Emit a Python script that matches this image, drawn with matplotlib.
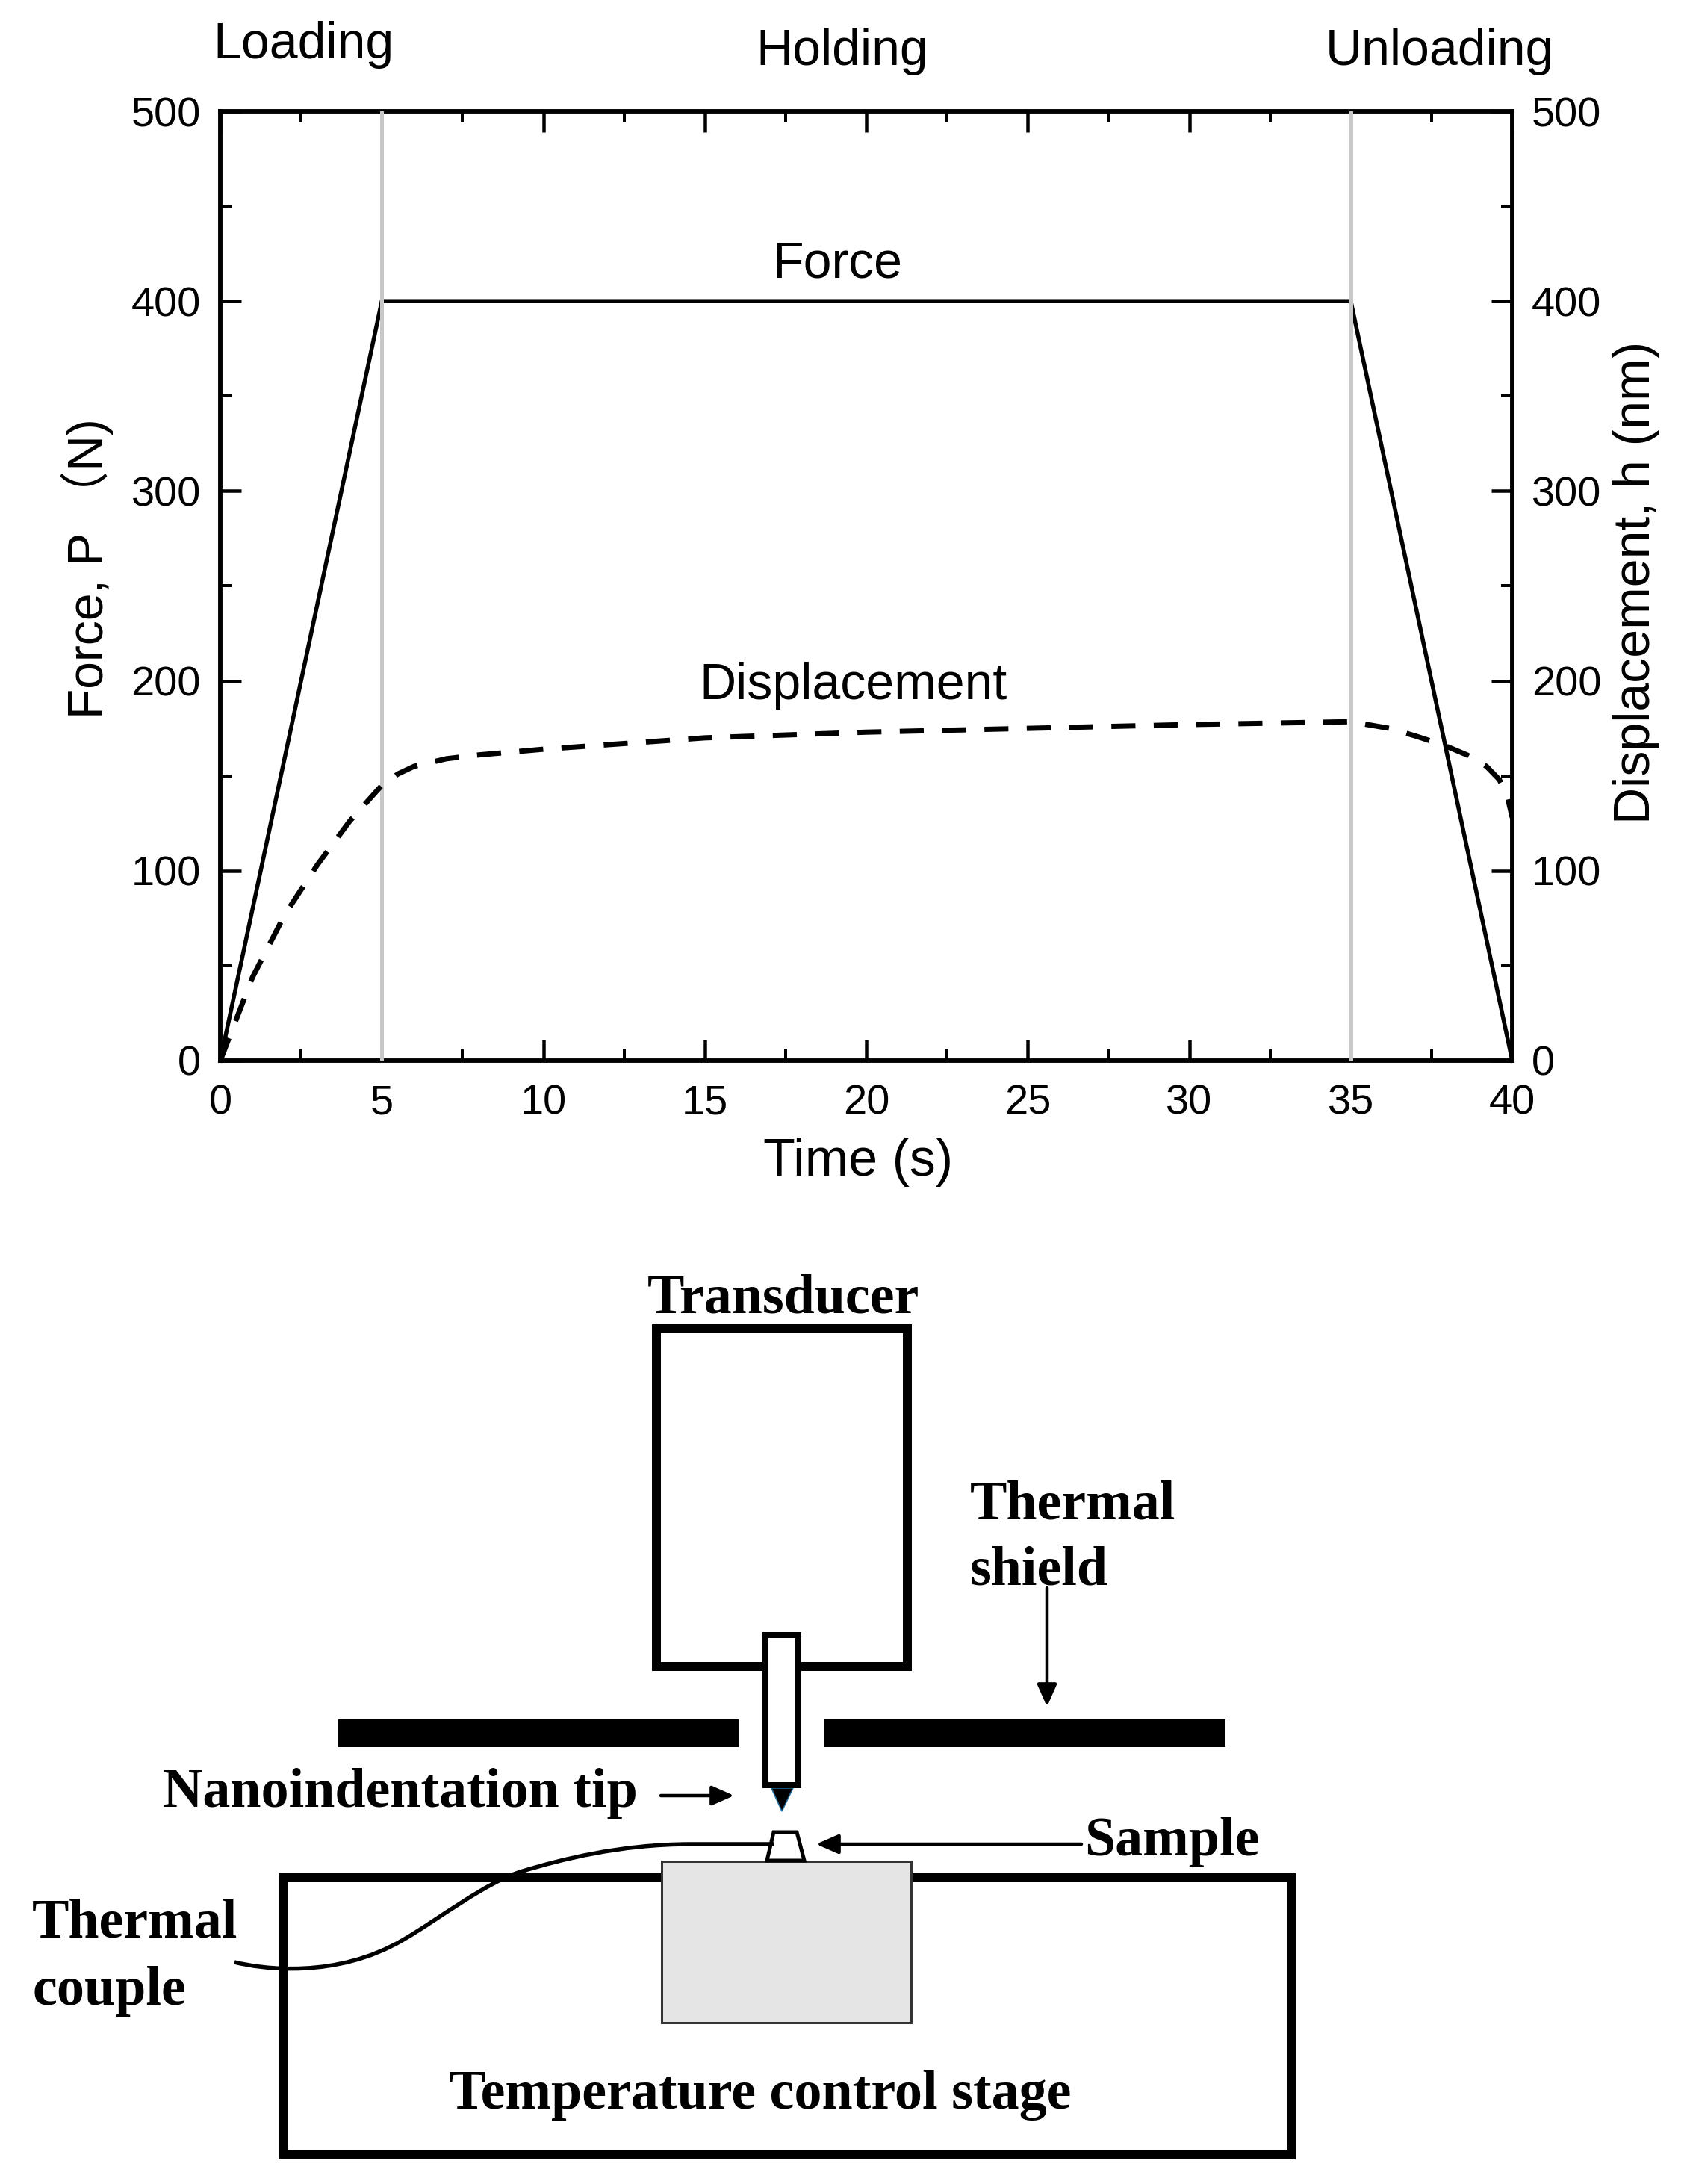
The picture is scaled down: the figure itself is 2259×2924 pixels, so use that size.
import matplotlib

matplotlib.use("Agg")
import matplotlib.pyplot as plt
from matplotlib.patches import FancyArrowPatch, PathPatch, Polygon, Rectangle
from matplotlib.path import Path
from matplotlib.ticker import MultipleLocator

WIDTH, HEIGHT = 2259, 2924
DPI = 100

# curves
force_time = [0, 5, 35, 40]
force_values = [0, 400, 400, 0]
disp_time = [0, 1, 2, 3, 4, 5, 5.5, 6, 7, 8, 10, 15, 20, 25, 30, 35, 36.2, 37, 37.9, 38.6, 39.2, 39.6, 39.85, 40]
disp_values = [0, 44, 77, 103, 126, 145, 151, 155, 159, 161, 164, 170, 173, 175, 177, 178.5, 175, 171, 166, 161, 155, 148, 139, 128]
phase_times = [5, 35]

SANS = ["Liberation Sans", "Noto Sans CJK SC", "DejaVu Sans"]
SERIF = "Liberation Serif"


def px(n):
    """Pixels of the output image to points."""
    return n * 72 / DPI


plt.rcParams["font.family"] = SANS

fig = plt.figure(figsize=(WIDTH / DPI, HEIGHT / DPI), dpi=DPI, facecolor="white")

# top chart
left, right, top, bottom = 295, 2025, 149, 1420
ax = fig.add_axes([left / WIDTH, 1 - bottom / HEIGHT, (right - left) / WIDTH, (bottom - top) / HEIGHT])
ax.set_xlim(0, 40)
ax.set_ylim(0, 500)
ax2 = ax.twinx()
ax2.set_ylim(0, 500)

for t in phase_times:
    ax2.axvline(t, color="#c8c8c8", lw=px(5), zorder=3)
ax.plot(force_time, force_values, color="black", lw=px(5.5), solid_joinstyle="miter", zorder=4, clip_on=False)
ax2.plot(disp_time, disp_values, color="black", lw=px(7), dashes=(4.6, 3.5), zorder=4)

ax.xaxis.set_major_locator(MultipleLocator(5))
ax.xaxis.set_minor_locator(MultipleLocator(2.5))
for a in (ax, ax2):
    a.yaxis.set_major_locator(MultipleLocator(100))
    a.yaxis.set_minor_locator(MultipleLocator(50))
    for spine in a.spines.values():
        spine.set_linewidth(px(5.5))
ax.tick_params(axis="x", which="major", pad=px(31))
ax.tick_params(axis="y", which="major", pad=px(26))
ax.tick_params(axis="both", which="major", direction="in", length=px(28), width=px(4.5), labelsize=px(56), top=True)
ax.tick_params(axis="both", which="minor", direction="in", length=px(15), width=px(4), top=True)
ax2.tick_params(axis="y", which="major", direction="in", length=px(28), width=px(4.5), labelsize=px(56), pad=px(26))
ax2.tick_params(axis="y", which="minor", direction="in", length=px(15), width=px(4))

ax.set_xlabel("Time (s)", fontsize=px(70))
ax.xaxis.set_label_coords(0.4935, -(1574 - bottom) / (bottom - top), transform=ax.transAxes)
ax.xaxis.label.set_va("baseline")
ax.set_ylabel("Force, P \uff08N)", fontsize=px(66))
ax.yaxis.set_label_coords((117 - left) / (right - left), 0.5 + (784.5 - 761) / (bottom - top))
ax.yaxis.label.set_va("center")
ax2.set_ylabel("Displacement, h (nm)", fontsize=px(68))
ax2.yaxis.set_label_coords((2191 - left) / (right - left), 0.5 - (780 - 784.5) / (bottom - top))
ax2.yaxis.label.set_va("center")

# overlay in image pixels, for the phase labels and the stage sketch below
sketch = fig.add_axes([0, 0, 1, 1], facecolor="none")
sketch.set_xlim(0, WIDTH)
sketch.set_ylim(HEIGHT, 0)
sketch.axis("off")

for label, x, y in [("Loading", 285, 78), ("Holding", 1012, 87), ("Unloading", 1775, 87), ("Force", 1034, 371), ("Displacement", 936, 936)]:
    sketch.text(x, y, label, fontsize=px(68), ha="left", va="baseline")

# transducer
sketch.add_patch(Rectangle((879, 1779), 336, 452, fill=False, ec="black", lw=px(12), joinstyle="miter"))
# thermal shield
sketch.add_patch(Rectangle((453, 2302), 536, 37, fc="black", ec="none"))
sketch.add_patch(Rectangle((1104, 2302), 537, 37, fc="black", ec="none"))
# rod and tip
sketch.add_patch(Rectangle((1025, 2189), 44, 201, fc="white", ec="black", lw=px(8), joinstyle="miter", zorder=3))
sketch.add_patch(Polygon([(1033, 2394), (1062, 2394), (1047, 2425)], fc="black", ec="#1f6f9f", lw=px(1.5)))
# stage
sketch.add_patch(Rectangle((379, 2514), 1350, 371, fill=False, ec="black", lw=px(12), joinstyle="miter"))
sketch.add_patch(Rectangle((886, 2492), 334, 216, fc="#e5e5e5", ec="#333333", lw=px(3), zorder=3))
# thermocouple wire
wire = Path(
    [(314, 2627), (350, 2636), (450, 2650), (540, 2597), (590, 2568), (650, 2520), (700, 2505), (750, 2490), (830, 2469), (925, 2469), (1037, 2469)],
    [Path.MOVETO, Path.CURVE4, Path.CURVE4, Path.CURVE4, Path.CURVE4, Path.CURVE4, Path.CURVE4, Path.CURVE4, Path.CURVE4, Path.CURVE4, Path.LINETO],
)
sketch.add_patch(PathPatch(wire, fill=False, ec="black", lw=px(5.5), zorder=4))
# sample
sketch.add_patch(Polygon([(1027, 2491), (1036, 2453), (1067, 2453), (1077, 2491)], fc="white", ec="black", lw=px(5), zorder=3.5))

for start, end in [((885, 2404), (983, 2404)), ((1448, 2469), (1093, 2469)), ((1402, 2126), (1402, 2285))]:
    sketch.add_patch(
        FancyArrowPatch(start, end, arrowstyle="-|>,head_length=1,head_width=0.44", mutation_scale=px(25), shrinkA=0, shrinkB=0, color="black", lw=px(4.5), zorder=4)
    )

for label, x, y in [
    ("Transducer", 867, 1758),
    ("Thermal", 1299, 2033),
    ("shield", 1299, 2122),
    ("Nanoindentation tip", 218, 2419),
    ("Sample", 1452, 2484),
    ("Thermal", 43, 2594),
    ("couple", 43, 2684),
    ("Temperature control stage", 601, 2823),
]:
    sketch.text(x, y, label, family=SERIF, weight="bold", fontsize=px(74), ha="left", va="baseline", zorder=5)

fig.savefig("out.png", dpi=DPI, facecolor="white")
plt.close(fig)
